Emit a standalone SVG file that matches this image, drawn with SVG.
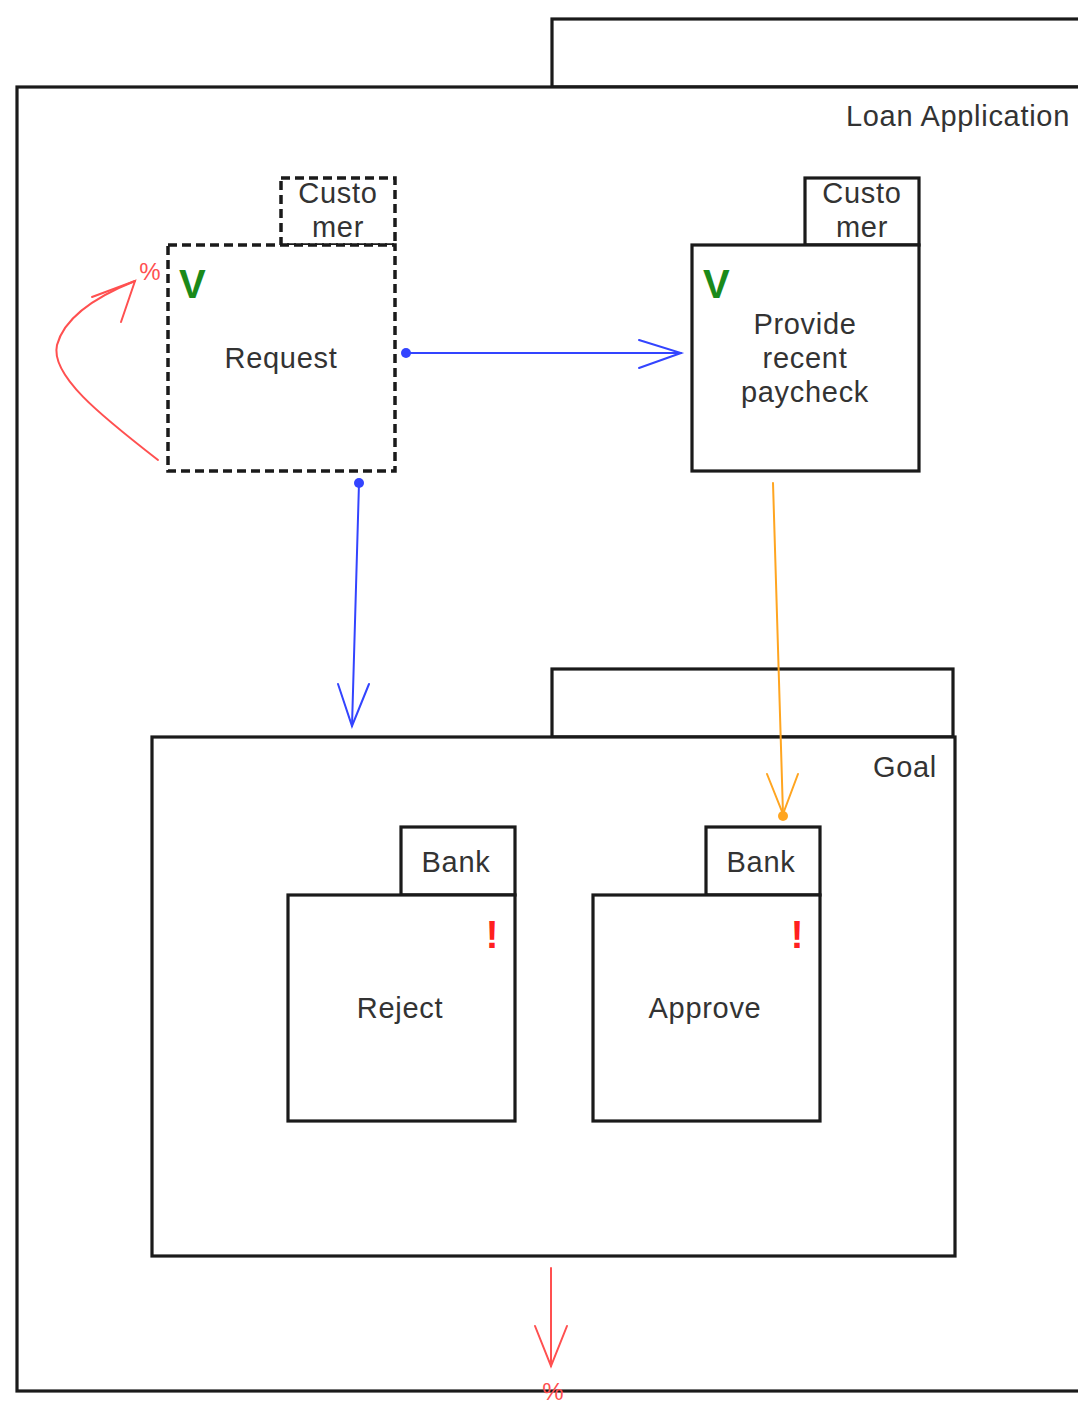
<svg xmlns="http://www.w3.org/2000/svg" width="1078" height="1403" viewBox="0 0 1078 1403">
<style>
.b{fill:#fff;stroke:#1a1a1a;stroke-width:3.2}
.d{fill:#fff;stroke:#1a1a1a;stroke-width:3.5;stroke-dasharray:9 5}
.t{font-family:"Liberation Sans",Arial,sans-serif;font-size:29px;fill:#333;text-anchor:middle;letter-spacing:0.7px}
.v{font-family:"Liberation Sans",Arial,sans-serif;font-size:40px;font-weight:bold;fill:#1a8a1a}
.x{font-family:"Liberation Sans",Arial,sans-serif;font-size:38px;font-weight:bold;fill:#ff2020;text-anchor:middle}
.p{font-family:"Liberation Sans",Arial,sans-serif;font-size:24px;fill:#ff5050;text-anchor:middle}
</style>
<rect width="1078" height="1403" fill="#fff"/>
<g id="loan-application">
<rect class="b" x="552" y="19" width="560" height="68"/>
<rect class="b" x="17" y="87" width="1095" height="1304"/>
<text class="t" x="1070" y="126" style="text-anchor:end">Loan Application</text>
</g>
<g id="request">
<rect class="d" x="281" y="178" width="114" height="67"/>
<rect class="d" x="168" y="245" width="227" height="226"/>
<text class="t" x="338" y="203">Custo</text>
<text class="t" x="338" y="237">mer</text>
<text class="v" x="179" y="298">V</text>
<text class="t" x="281" y="368">Request</text>
</g>
<g id="provide">
<rect class="b" x="805" y="178" width="114" height="67"/>
<rect class="b" x="692" y="245" width="227" height="226"/>
<text class="t" x="862" y="203">Custo</text>
<text class="t" x="862" y="237">mer</text>
<text class="v" x="703" y="298">V</text>
<text class="t" x="805" y="334">Provide</text>
<text class="t" x="805" y="368">recent</text>
<text class="t" x="805" y="402">paycheck</text>
</g>
<g id="goal">
<rect class="b" x="552" y="669" width="401" height="68"/>
<rect class="b" x="152" y="737" width="803" height="519"/>
<text class="t" x="937" y="777" style="text-anchor:end">Goal</text>
</g>
<g id="reject">
<rect class="b" x="401" y="827" width="114" height="68"/>
<rect class="b" x="288" y="895" width="227" height="226"/>
<text class="t" x="456" y="872">Bank</text>
<text class="x" x="492" y="948">!</text>
<text class="t" x="400" y="1018">Reject</text>
</g>
<g id="approve">
<rect class="b" x="706" y="827" width="114" height="68"/>
<rect class="b" x="593" y="895" width="227" height="226"/>
<text class="t" x="761" y="872">Bank</text>
<text class="x" x="797" y="948">!</text>
<text class="t" x="705" y="1018">Approve</text>
</g>
<g id="connectors" fill="none" stroke-width="2" stroke-linecap="round">
<g stroke="#3344ff">
<line x1="406" y1="353" x2="681" y2="353"/>
<polyline points="639,340 681,353 639,368"/>
<line x1="359" y1="483" x2="352" y2="726"/>
<polyline points="338,684 352,726 369,684"/>
</g>
<circle cx="406" cy="353" r="5" fill="#3344ff" stroke="none"/>
<circle cx="359" cy="483" r="5" fill="#3344ff" stroke="none"/>
<g stroke="#ffa520">
<line x1="773" y1="483" x2="783" y2="814"/>
<polyline points="767,774 783,814 798,774"/>
</g>
<circle cx="783" cy="816" r="5" fill="#ffa520" stroke="none"/>
<g stroke="#ff5050">
<path d="M158,460 C100,415 50,375 57,345 C65,315 100,295 135,281"/>
<polyline points="92,297 135,281 121,322"/>
<line x1="551" y1="1268" x2="551" y2="1366"/>
<polyline points="535,1326 551,1366 567,1326"/>
</g>
<text class="p" x="150" y="280">%</text>
<text class="p" x="553" y="1400">%</text>
</g>
</svg>
